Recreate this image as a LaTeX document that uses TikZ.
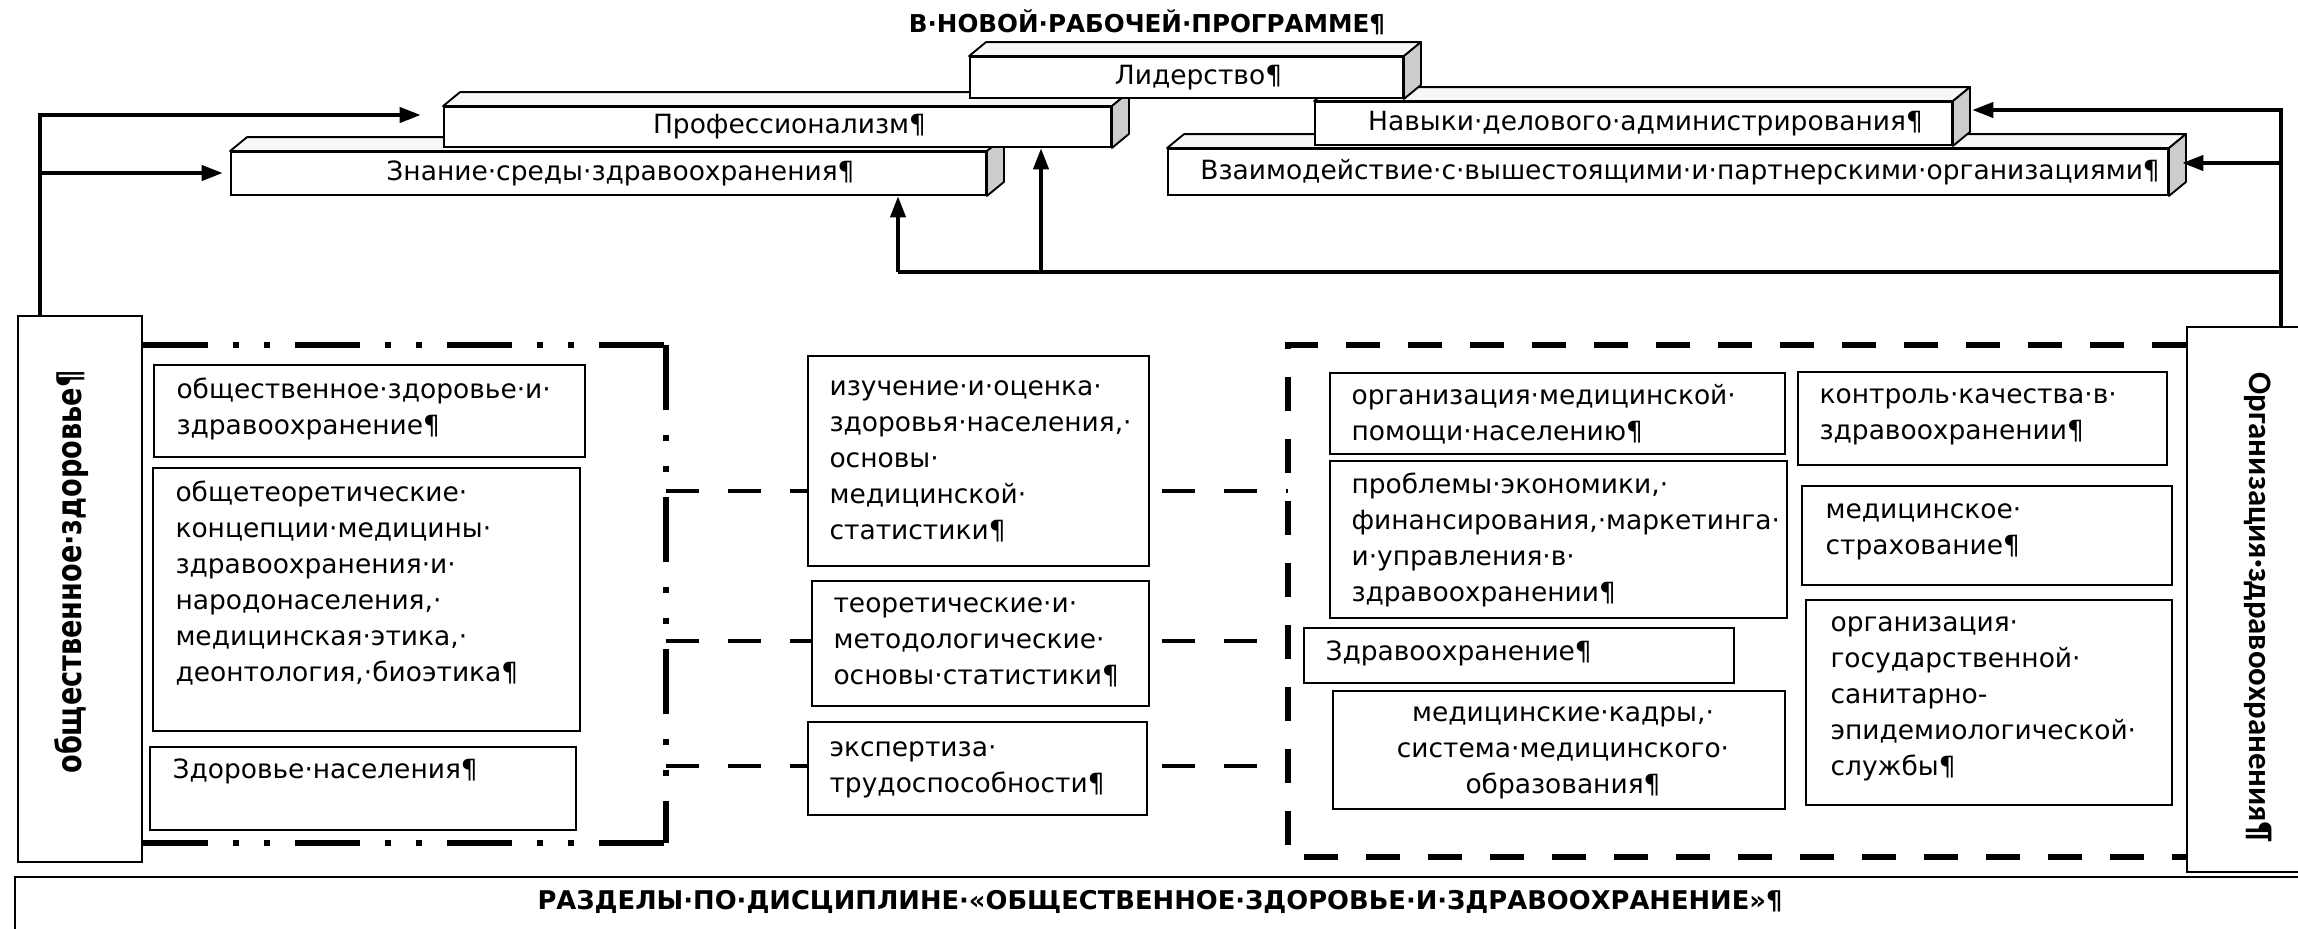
\documentclass[tikz,border=0pt]{standalone}
\usepackage{fontspec}
\setmainfont{DejaVu Sans}
\newfontfamily\carlfont{Carlito}
\newfontfamily\phfont[FakeStretch=0.8]{DejaVu Sans}
\usetikzlibrary{arrows.meta,fit,calc}

\tikzset{
  box/.style={draw, line width=0.8pt, fill=white, inner sep=0pt},
  slab/.style={draw, line width=0.8pt, fill=white, inner sep=0pt},
  slabtxt/.style={inner sep=0pt, font=\fontsize{11.3}{15.4}\selectfont},
  slabtop/.style={draw, line width=0.8pt, fill=gray!6, line join=round},
  slabside/.style={draw, line width=0.8pt, fill=gray!40, line join=round},
  txt/.style={inner sep=0pt, anchor=base west, text width=75mm, align=left, font=\fontsize{11.3}{15.4}\selectfont},
  ctxt/.style={inner sep=0pt, anchor=base, text width=75mm, align=center, font=\fontsize{11.3}{15.4}\selectfont},
  heading/.style={inner sep=0pt, font=\bfseries\fontsize{10.5}{13}\selectfont},
  feedback/.style={line width=2pt},
  feedarrow/.style={line width=2pt, line join=miter, -{Triangle[length=3.2mm,width=2.2mm]}},
  link/.style={line width=2.1pt, dash pattern=on 5mm off 4.3mm},
  orgframe/.style={line width=2.4pt, dash pattern=on 5.1mm off 4.2mm},
  phframe/.style={line width=2.6pt, dash pattern=on 9.75mm off 3.75mm on 0.9mm off 3.75mm on 0.9mm off 3.75mm}
}

\begin{document}
\begin{tikzpicture}[x=0.15mm,y=-0.15mm]

        \path[use as bounding box, fill=white] (0,0) rectangle (2298,928);

        %heading of the competences
        \node[heading] (title) at (1147,22) {В·НОВОЙ·РАБОЧЕЙ·ПРОГРАММЕ¶};

        %lower row of competence slabs
        \node[slab, fit={(231,152) (986,195)}] (znan) {};
        \path[slabtop] (znan.north west) -- ([shift={(17,-14)}]znan.north west) -- ([shift={(17,-14)}]znan.north east) -- (znan.north east) -- cycle;
        \path[slabside] (znan.north east) -- ([shift={(17,-14)}]znan.north east) -- ([shift={(17,-14)}]znan.south east) -- (znan.south east) -- cycle;
        \node[slabtxt] (znan-t) at ([shift={(12,0)}]znan.center) {Знание·среды·здравоохранения¶};

        \node[slab, fit={(1168,149) (2168,195)}] (vzaim) {};
        \path[slabtop] (vzaim.north west) -- ([shift={(17,-14)}]vzaim.north west) -- ([shift={(17,-14)}]vzaim.north east) -- (vzaim.north east) -- cycle;
        \path[slabside] (vzaim.north east) -- ([shift={(17,-14)}]vzaim.north east) -- ([shift={(17,-14)}]vzaim.south east) -- (vzaim.south east) -- cycle;
        \node[slabtxt] (vzaim-t) at ([shift={(12,0)}]vzaim.center) {Взаимодействие·с·вышестоящими·и·партнерскими·организациями¶};

        %middle row of competence slabs
        \node[slab, fit={(444,107) (1111,147)}] (prof) {};
        \path[slabtop] (prof.north west) -- ([shift={(17,-14)}]prof.north west) -- ([shift={(17,-14)}]prof.north east) -- (prof.north east) -- cycle;
        \path[slabside] (prof.north east) -- ([shift={(17,-14)}]prof.north east) -- ([shift={(17,-14)}]prof.south east) -- (prof.south east) -- cycle;
        \node[slabtxt] (prof-t) at ([shift={(12,0)}]prof.center) {Профессионализм¶};

        \node[slab, fit={(1315,102) (1952,145)}] (navyk) {};
        \path[slabtop] (navyk.north west) -- ([shift={(17,-14)}]navyk.north west) -- ([shift={(17,-14)}]navyk.north east) -- (navyk.north east) -- cycle;
        \path[slabside] (navyk.north east) -- ([shift={(17,-14)}]navyk.north east) -- ([shift={(17,-14)}]navyk.south east) -- (navyk.south east) -- cycle;
        \node[slabtxt] (navyk-t) at ([shift={(12,0)}]navyk.center) {Навыки·делового·администрирования¶};

        %top slab
        \node[slab, fit={(970,57) (1403,98)}] (lead) {};
        \path[slabtop] (lead.north west) -- ([shift={(17,-14)}]lead.north west) -- ([shift={(17,-14)}]lead.north east) -- (lead.north east) -- cycle;
        \path[slabside] (lead.north east) -- ([shift={(17,-14)}]lead.north east) -- ([shift={(17,-14)}]lead.south east) -- (lead.south east) -- cycle;
        \node[slabtxt] (lead-t) at ([shift={(12,0)}]lead.center) {Лидерство¶};

        %side label boxes and sections box
        \node[box, fit={(18,316) (142,862)}] (phealth) {};
        \node[rotate=90, anchor=base, inner sep=0pt, font=\phfont\bfseries\fontsize{14.5}{16}\selectfont] (phealth-t) at (81,572) {общественное·здоровье¶};

        \node[box, fit={(2187,327) (2330,872)}] (orghc) {};
        \node[rotate=-90, anchor=base, inner sep=0pt, font=\carlfont\bfseries\fontsize{14}{16}\selectfont] (orghc-t) at (2249,607) {Организация·здравоохранения¶};

        \node[box, fit={(15,877) (2330,980)}] (razd) {};
        \node[heading, font=\bfseries\fontsize{11}{13}\selectfont] (razd-t) at (1160,902) {РАЗДЕЛЫ·ПО·ДИСЦИПЛИНЕ·«ОБЩЕСТВЕННОЕ·ЗДОРОВЬЕ·И·ЗДРАВООХРАНЕНИЕ»¶};

        %feedback from public health (left)
        \coordinate (ltop) at (40,115);
        \coordinate (lmid) at (40,173);
        \draw[feedarrow] (ltop |- phealth.north) -- (ltop) -- ($(prof.west |- ltop)+(-22,0)$);
        \draw[feedarrow] (lmid) -- ($(znan.west |- lmid)+(-7,0)$);

        %feedback from health organisation (right)
        \coordinate (rtop) at (2281,110);
        \coordinate (rmid) at (2281,163);
        \coordinate (rlow) at (2281,272);
        \draw[feedarrow] (rtop |- orghc.north) -- (rtop) -- ($(navyk.east |- rtop)+(19,0)$);
        \draw[feedarrow] (rmid) -- ($(vzaim.east |- rmid)+(13,0)$);

        %bottom feedback line
        \coordinate (fbl) at (898,272);
        \coordinate (fbm) at (1041,272);
        \draw[feedback] (rlow) -- (fbl);
        \draw[feedarrow] (fbl) -- (fbl |- znan.south);
        \draw[feedarrow] (fbm) -- (fbm |- prof.south);

        %frame of public health
        \coordinate (phne) at (666,345);
        \coordinate (phse) at (666,843);
        \draw[phframe] (phealth.east |- phne) -- ([shift={(21,0)}]phne);
        \draw[phframe] (phne) -- (phse);
        \draw[phframe] (phealth.east |- phse) -- ([shift={(21,0)}]phse);

        %frame of health organisation
        \coordinate (orgnw) at (1288,345);
        \coordinate (orgsw) at (1288,857);
        \draw[orgframe] (orghc.west |- orgnw) -- (orgnw) -- (orgsw) -- (orghc.west |- orgsw);

        %dashed links between the two frames
        \coordinate (c1) at (666,491);
        \coordinate (c2) at (666,641);
        \coordinate (c3) at (666,766);
        \draw[link] (c1) -- (c1 -| orgnw);
        \draw[link] (c2) -- (c2 -| orgnw);
        \draw[link] (c3) -- (c3 -| orgnw);

        %public health boxes
        \node[box, fit={(154,365) (585,457)}] (obzdr) {};
        \node[txt] (obzdr-t) at ([shift={(23,34)}]obzdr.north west) {общественное·здоровье·и·\\здравоохранение¶};

        \node[box, fit={(153,468) (580,731)}] (obteor) {};
        \node[txt] (obteor-t) at ([shift={(23,34)}]obteor.north west) {общетеоретические·\\концепции·медицины·\\здравоохранения·и·\\народонаселения,·\\медицинская·этика,·\\деонтология,·биоэтика¶};

        \node[box, fit={(150,747) (576,830)}] (zdnas) {};
        \node[txt] (zdnas-t) at ([shift={(23,32)}]zdnas.north west) {Здоровье·населения¶};

        %statistics boxes in the middle
        \node[box, fit={(808,356) (1149,566)}] (izuch) {};
        \node[txt] (izuch-t) at ([shift={(22,40)}]izuch.north west) {изучение·и·оценка·\\здоровья·населения,·\\основы·\\медицинской·\\статистики¶};

        \node[box, fit={(812,581) (1149,706)}] (teor) {};
        \node[txt] (teor-t) at ([shift={(22,32)}]teor.north west) {теоретические·и·\\методологические·\\основы·статистики¶};

        \node[box, fit={(808,722) (1147,815)}] (ekspert) {};
        \node[txt] (ekspert-t) at ([shift={(22,35)}]ekspert.north west) {экспертиза·\\трудоспособности¶};

        %health organisation boxes
        \node[box, fit={(1330,373) (1785,454)}] (orgmed) {};
        \node[txt] (orgmed-t) at ([shift={(22,32)}]orgmed.north west) {организация·медицинской·\\помощи·населению¶};

        \node[box, fit={(1330,461) (1787,618)}] (econ) {};
        \node[txt] (econ-t) at ([shift={(22,33)}]econ.north west) {проблемы·экономики,·\\финансирования,·маркетинга·\\и·управления·в·\\здравоохранении¶};

        \node[box, fit={(1304,628) (1734,683)}] (zdrav) {};
        \node[txt] (zdrav-t) at ([shift={(22,33)}]zdrav.north west) {Здравоохранение¶};

        \node[box, fit={(1333,691) (1785,809)}] (kadry) {};
        \node[ctxt] (kadry-t) at ([shift={(4,31)}]kadry.north) {медицинские·кадры,·\\система·медицинского·\\образования¶};

        \node[box, fit={(1798,372) (2167,465)}] (kontrol) {};
        \node[txt] (kontrol-t) at ([shift={(22,32)}]kontrol.north west) {контроль·качества·в·\\здравоохранении¶};

        \node[box, fit={(1802,486) (2172,585)}] (strah) {};
        \node[txt] (strah-t) at ([shift={(24,33)}]strah.north west) {медицинское·\\страхование¶};

        \node[box, fit={(1806,600) (2172,805)}] (sanep) {};
        \node[txt] (sanep-t) at ([shift={(25,32)}]sanep.north west) {организация·\\государственной·\\санитарно-\\эпидемиологической·\\службы¶};

\end{tikzpicture}
\end{document}
